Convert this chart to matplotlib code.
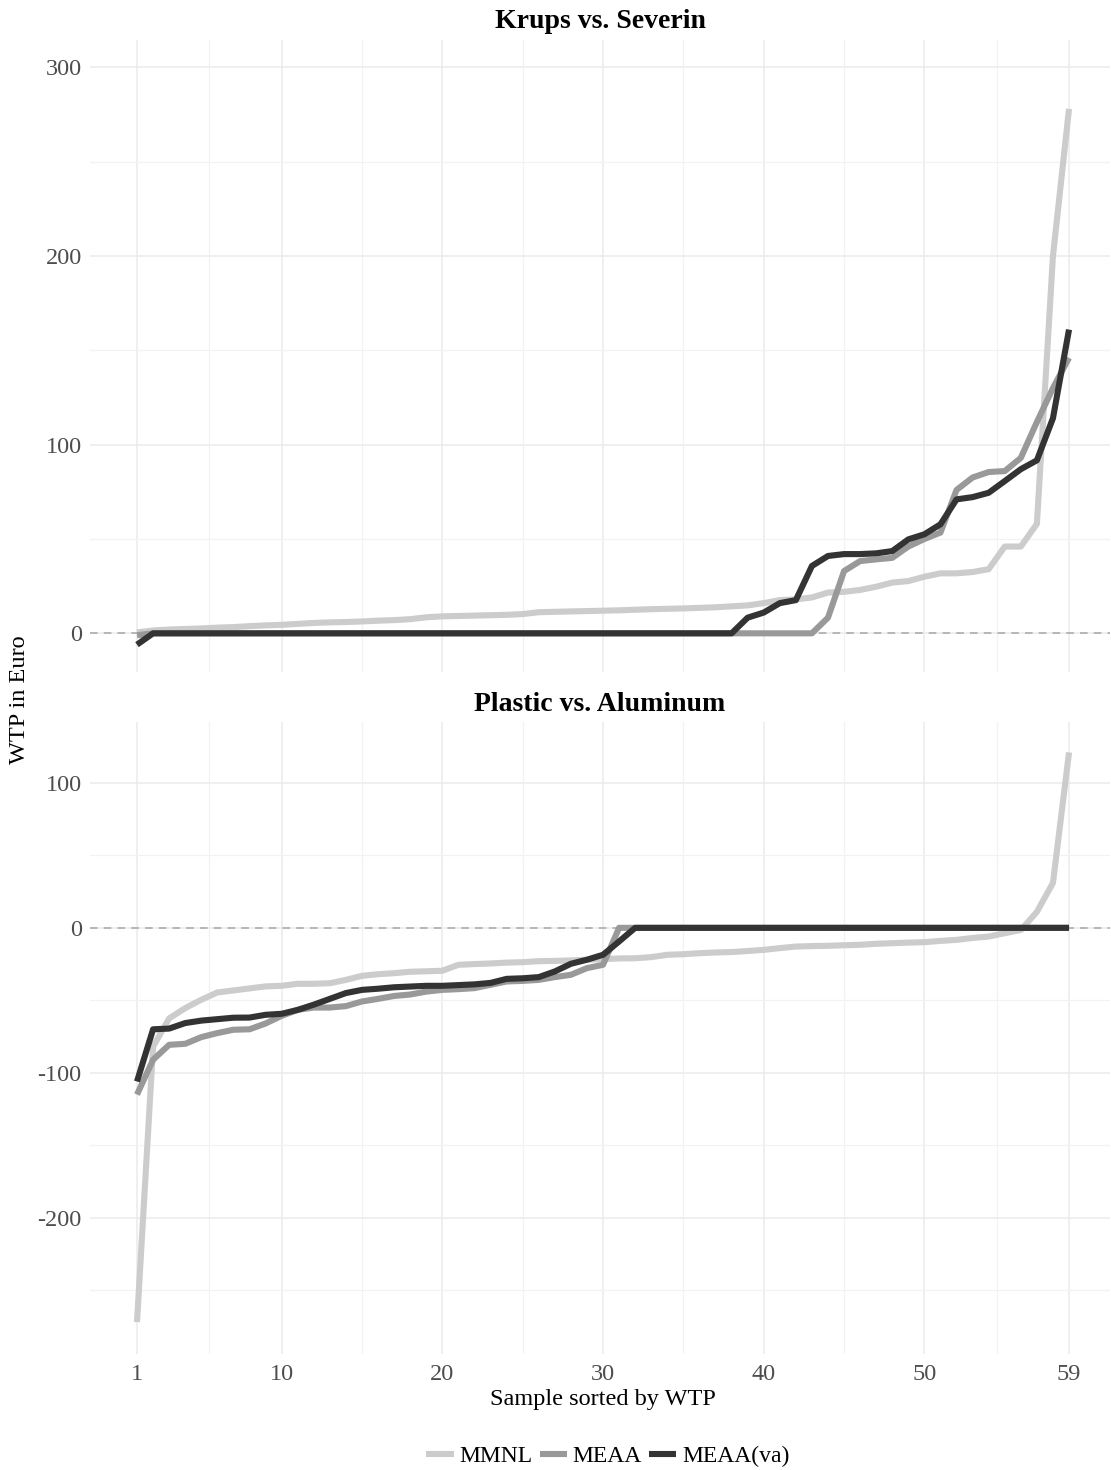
import numpy as np
import matplotlib
matplotlib.use('Agg')
import matplotlib.pyplot as plt

plt.rcParams['font.family'] = ['Liberation Serif', 'DejaVu Serif']
plt.rcParams['axes.unicode_minus'] = False

# Stichprobe, sortiert nach WTP
sample = np.arange(1, 60)

series_names = ['MMNL', 'MEAA', 'MEAA(va)']
series_colors = ['#cccccc', '#999999', '#333333']

# Krups vs. Severin
mmnl_top = [0.5, 1.5, 2.0, 2.3, 2.6, 3.0, 3.3, 3.8, 4.2, 4.5,
            5.0, 5.5, 5.8, 6.0, 6.3, 6.7, 7.0, 7.5, 8.5, 9.0,
            9.2, 9.4, 9.6, 9.8, 10.2, 11.2, 11.4, 11.6, 11.8, 12.0,
            12.2, 12.5, 12.8, 13.0, 13.2, 13.5, 13.8, 14.3, 14.8, 16.0,
            17.6, 18.0, 19.0, 21.6, 22.0, 23.0, 24.7, 26.9, 27.7, 30.0,
            31.8, 31.8, 32.5, 34.0, 46.0, 46.0, 58.0, 200.0, 278.0]
meaa_top = [-1.0] + [0.0] * 42 + [8.3, 33.0, 38.3, 39.2, 40.0, 46.0, 50.0, 53.4,
                                  76.0, 82.6, 85.5, 86.0, 93.0, 112.0, 130.0, 146.0]
va_top = [-6.0] + [0.0] * 37 + [8.3, 11.0, 16.0, 17.6, 35.7, 41.0, 42.0, 42.0, 42.4,
                                43.6, 49.8, 52.5, 57.8, 71.0, 72.2, 74.5, 80.7, 87.0,
                                91.7, 114.0, 161.0]

# Plastic vs. Aluminum
mmnl_bot = [-272.0, -82.0, -62.5, -55.4, -49.6, -44.6, -43.2, -41.8, -40.4, -40.0,
            -38.6, -38.6, -38.2, -35.9, -33.1, -32.0, -31.3, -30.3, -30.0, -29.6,
            -25.5, -25.0, -24.6, -24.0, -23.7, -23.0, -22.8, -22.5, -22.0, -21.6,
            -21.1, -21.0, -20.2, -18.6, -18.2, -17.5, -17.0, -16.7, -16.0, -15.2,
            -14.0, -12.9, -12.6, -12.4, -12.0, -11.7, -11.0, -10.6, -10.2, -9.9,
            -9.0, -8.3, -7.0, -6.0, -3.7, -1.5, 11.0, 31.0, 121.0]
meaa_bot = [-115.0, -91.0, -80.7, -80.0, -75.4, -72.6, -70.3, -70.0, -66.0, -60.7,
            -56.6, -55.0, -55.0, -54.0, -50.8, -49.0, -47.0, -46.0, -44.0, -42.8,
            -42.3, -41.6, -39.3, -37.0, -36.6, -35.9, -34.0, -32.4, -27.8, -25.5] + [0.0] * 29
va_bot = [-106.0, -70.0, -69.5, -65.7, -64.0, -63.0, -62.0, -61.9, -60.0, -59.3,
          -56.6, -53.0, -49.0, -45.0, -42.8, -42.0, -41.0, -40.5, -40.0, -40.0,
          -39.5, -39.0, -38.0, -35.2, -34.8, -34.0, -30.1, -24.8, -22.0, -18.6,
          -9.4] + [0.0] * 28

x_ticks = [1, 10, 20, 30, 40, 50, 59]
x_minor = [5.5, 15, 25, 35, 45, 54.5]

W, H = 1111, 1470
fig = plt.figure(figsize=(W / 100, H / 100), dpi=100)

panels = [
    ('Krups vs. Severin', [mmnl_top, meaa_top, va_top], (-20.5, 314.5),
     [0, 100, 200, 300], [50, 150, 250], 40),
    ('Plastic vs. Aluminum', [mmnl_bot, meaa_bot, va_bot], (-294, 142),
     [-200, -100, 0, 100], [-250, -150, -50, 50], 722),
]

left, right = 90, 1110
ph = 632
axes = []
for title, data, ylim, yt, ym, top in panels:
    ax = fig.add_axes([left / W, 1 - (top + ph) / H, (right - left) / W, ph / H])
    axes.append(ax)
    for s in ax.spines.values():
        s.set_visible(False)
    ax.set_xlim(-1.925, 61.55)
    ax.set_ylim(*ylim)
    ax.set_xticks(x_ticks)
    ax.set_xticks(x_minor, minor=True)
    ax.set_yticks(yt)
    ax.set_yticks(ym, minor=True)
    ax.grid(which='major', color='#ebebeb', lw=1.1)
    ax.grid(which='minor', color='#f2f2f2', lw=0.9)
    ax.set_axisbelow(True)
    ax.tick_params(which='both', length=0)
    ax.tick_params(axis='y', labelsize=17.5, labelcolor='#4d4d4d', pad=6)
    ax.tick_params(axis='x', labelsize=17.5, labelcolor='#4d4d4d', pad=7)
    ax.axhline(0, color='#a6a6a6', lw=1.1, ls=(0, (5, 4)), zorder=1)
    for vals, name, col in zip(data, series_names, series_colors):
        ax.plot(sample, vals, color=col, lw=4.4, label=name, zorder=2,
                solid_joinstyle='round', solid_capstyle='butt')
    fig.text(0.5 * (left + right) / W, 1 - (top - 18) / H, title, ha='center', va='center',
             fontsize=20, fontweight='bold')

axes[0].tick_params(axis='x', labelbottom=False)

fig.text(20 / W, 1 - 700 / H, 'WTP in Euro', rotation=90, ha='center', va='center', fontsize=17.5)
fig.text(603 / W, 1 - 1400 / H, 'Sample sorted by WTP', ha='center', va='center', fontsize=17.5)

handles, labels = axes[0].get_legend_handles_labels()
fig.legend(handles, labels, loc='center', bbox_to_anchor=(608 / W, 1 - 1456 / H), ncol=3,
           frameon=False, fontsize=17, handlelength=1.15, handletextpad=0.25,
           columnspacing=0.3, borderaxespad=0)

fig.savefig('out.png', dpi=100)
